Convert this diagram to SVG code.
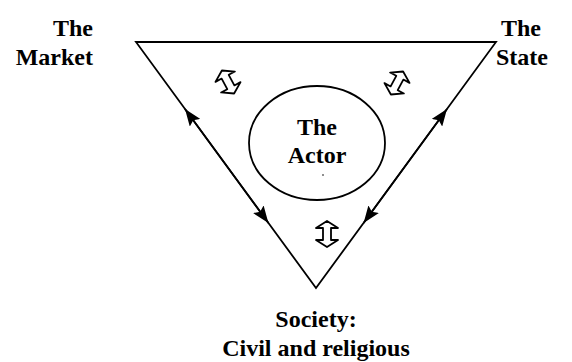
<svg xmlns="http://www.w3.org/2000/svg" width="572" height="362" viewBox="0 0 572 362">
  <defs>
    <style>
      .ln { fill: none; stroke: #000; stroke-width: 1.8; }
      .lbl { font-family: "Liberation Serif", "Times New Roman", serif; font-weight: bold; font-size: 24px; fill: #000; }
      .ic { fill: #fff; stroke: #000; stroke-width: 1.8; stroke-linejoin: round; }
    </style>
    <marker id="ah" viewBox="0 0 17 13" refX="17" refY="6.5" markerWidth="17" markerHeight="13" markerUnits="userSpaceOnUse" orient="auto-start-reverse">
      <path d="M0,0 L17,6.5 L0,13 L3,6.5 Z" fill="#000"/>
    </marker>
    <path id="dblarrow" d="M0,-13 L11,-6 L4,-6 L4,6 L11,6 L0,13 L-11,6 L-4,6 L-4,-6 L-11,-6 Z"/>
  </defs>

  <g id="triangle">
    <path class="ln" d="M136,42 L496,42 L316,288 Z"/>
  </g>

  <g id="actor">
    <ellipse class="ln" cx="317" cy="143" rx="68" ry="57"/>
    <text class="lbl" x="317" y="135" text-anchor="middle">The</text>
    <text class="lbl" x="317" y="163" text-anchor="middle">Actor</text>
    <circle cx="323" cy="175" r="0.8" fill="#000"/>
  </g>

  <g id="market">
    <text class="lbl" x="93" y="36" text-anchor="end">The</text>
    <text class="lbl" x="93" y="65" text-anchor="end">Market</text>
  </g>

  <g id="state">
    <text class="lbl" x="521" y="36" text-anchor="middle">The</text>
    <text class="lbl" x="522" y="65" text-anchor="middle">State</text>
  </g>

  <g id="society">
    <text class="lbl" x="316" y="327" text-anchor="middle">Society:</text>
    <text class="lbl" x="316" y="356" text-anchor="middle">Civil and religious</text>
  </g>

  <g id="icons">
    <use href="#dblarrow" class="ic" transform="translate(228,82) rotate(-28)"/>
    <use href="#dblarrow" class="ic" transform="translate(397,83) rotate(28)"/>
    <use href="#dblarrow" class="ic" transform="translate(327,234)"/>
  </g>

  <g id="connectors">
    <line class="ln" x1="185" y1="109" x2="268.4" y2="223" marker-start="url(#ah)" marker-end="url(#ah)"/>
    <line class="ln" x1="447" y1="109" x2="363.6" y2="223" marker-start="url(#ah)" marker-end="url(#ah)"/>
  </g>
</svg>
